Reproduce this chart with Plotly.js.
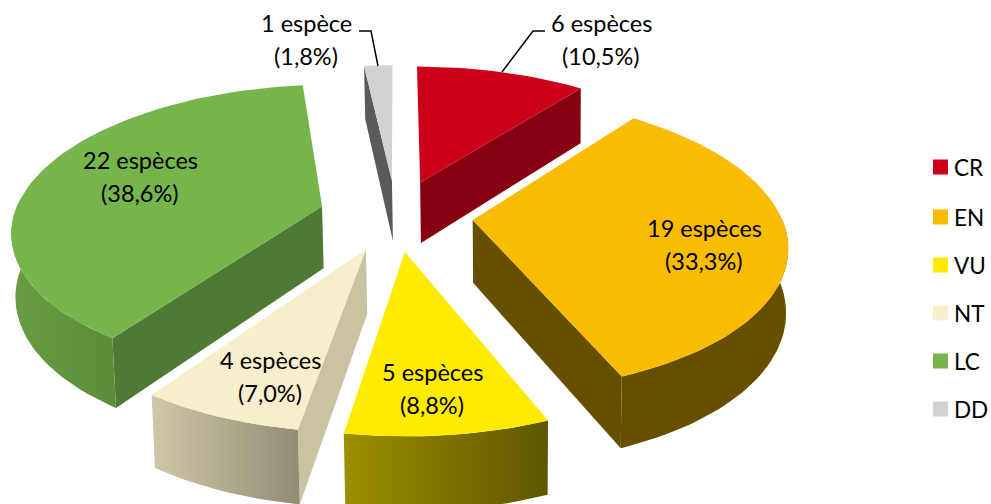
<!DOCTYPE html>
<html>
<head>
<meta charset="utf-8">
<script src="https://cdn.plot.ly/plotly-3.0.1.min.js"></script>
<style>html,body{margin:0;padding:0;background:#fff}#c{width:991px;height:504px}</style>
</head>
<body>
<div id="c"></div>
<script>
// Data
const categories = ['CR','EN','VU','NT','LC','DD'];
const counts = [6,19,5,4,22,1];
const percents = ['10,5','33,3','8,8','7,0','38,6','1,8'];
// Colours
const topColors = ['#CC0019','#F9BC00','#FFEB00','#F7EECB','#76B44C','#D0D2D4'];
const faceColors = ['#870012','#665000','#665C00','#C9C2A3','#4F7A33','#5A5A5A'];
const wallLeft = ['#870012','#665000','#9C9000','#CFC8A8','#6A9C43','#5A5A5A'];
const wallRight = ['#870012','#665000','#5F5600','#928C74','#5C8C3A','#5A5A5A'];
// Label and legend placement (pixels)
const labelX = [601,704,432,270,140,306];
const labelY = [23,228,372,360,160,23];
const legendY = [167,217,265,313,361,409];
const leaderDD = {x:[359,371,378], y:[31,31,66]};
const leaderCR = {x:[545,533,502], y:[31,31,72]};

// Projection of the exploded pie
const cx=396, cy=215, A=308, B=143, P=0.155, Q=0.008, ZS=1, H=63, E=0.25, LH=33;
const project=(X,Y,z)=>{const w=1+P*Y+Q*z; return [cx+ZS*z+A*X/w, cy+(-B*Y+H*z)/w];};
const total=counts.reduce((a,b)=>a+b,0);
const traces=[];
const poly=(pts,extra)=>traces.push(Object.assign({
  type:'scatter',mode:'lines',x:pts.map(p=>p[0]),y:pts.map(p=>p[1]),
  fill:'toself',line:{width:0},hoverinfo:'skip',showlegend:false},extra));

let start=0;
categories.forEach((cat,i)=>{
  const sweep=counts[i]/total*2*Math.PI, a0=start, a1=start+sweep, mid=start+sweep/2;
  start=a1;
  const ex=E*Math.sin(mid), ey=E*Math.cos(mid);
  const rim=(t,z)=>project(ex+Math.sin(t),ey+Math.cos(t),z);
  const apex=z=>project(ex,ey,z);
  const n=Math.max(4,Math.ceil(sweep/0.03));
  const ts=[];for(let k=0;k<=n;k++)ts.push(a0+(a1-a0)*k/n);
  // radial faces that look towards the viewer
  const visibleFaces=[];
  if(Math.sin(a0)<-1e-6) visibleFaces.push(a0);
  if(Math.sin(a1)>1e-6) visibleFaces.push(a1);
  visibleFaces.forEach(t=>poly([apex(0),rim(t,0),rim(t,1),apex(1),apex(0)],{fillcolor:faceColors[i],name:cat+' face'}));
  // outer wall: only the part facing the viewer
  const vis=ts.filter(t=>Math.cos(t)<0.03);
  if(vis.length>1){
    const pts=vis.map(t=>rim(t,0)).concat(vis.slice().reverse().map(t=>rim(t,1)));
    pts.push(pts[0]);
    poly(pts,{fillgradient:{type:'horizontal',colorscale:[[0,wallLeft[i]],[1,wallRight[i]]]},name:cat+' wall'});
  }
  // top
  const pts=[apex(0)].concat(ts.map(t=>rim(t,0)));pts.push(apex(0));
  poly(pts,{fillcolor:topColors[i],name:cat});
});

// Leader lines
[leaderDD,leaderCR].forEach(l=>traces.push({type:'scatter',mode:'lines',x:l.x,y:l.y,line:{color:'#000',width:1.5},hoverinfo:'skip',showlegend:false}));

// Legend swatches
categories.forEach((cat,i)=>traces.push({type:'scatter',mode:'markers',x:[940.5],y:[legendY[i]],
  marker:{symbol:'square',size:15,color:topColors[i]},hoverinfo:'skip',showlegend:false,name:cat}));

const annotations=[];
const font=size=>({family:'Lato, Carlito, sans-serif',size,color:'#000'});
// Legend labels
categories.forEach((cat,i)=>annotations.push({xref:'x',yref:'y',x:952,y:legendY[i],text:cat,showarrow:false,xanchor:'left',yanchor:'middle',font:font(22.5)}));
// Data labels
categories.forEach((cat,i)=>{
  const word=counts[i]>1?'espèces':'espèce';
  [`${counts[i]} ${word}`,`(${percents[i]}%)`].forEach((txt,j)=>annotations.push({
    xref:'x',yref:'y',x:labelX[i],y:labelY[i]+j*LH,text:txt,showarrow:false,xanchor:'center',yanchor:'middle',
    font:font(23.5)}));
});

Plotly.newPlot('c',traces,{
  width:991,height:504,margin:{l:0,r:0,t:0,b:0},paper_bgcolor:'#fff',plot_bgcolor:'#fff',showlegend:false,
  xaxis:{range:[0,991],visible:false,fixedrange:true},
  yaxis:{range:[504,0],visible:false,fixedrange:true},
  annotations
},{displayModeBar:false,staticPlot:true});
</script>
</body>
</html>
